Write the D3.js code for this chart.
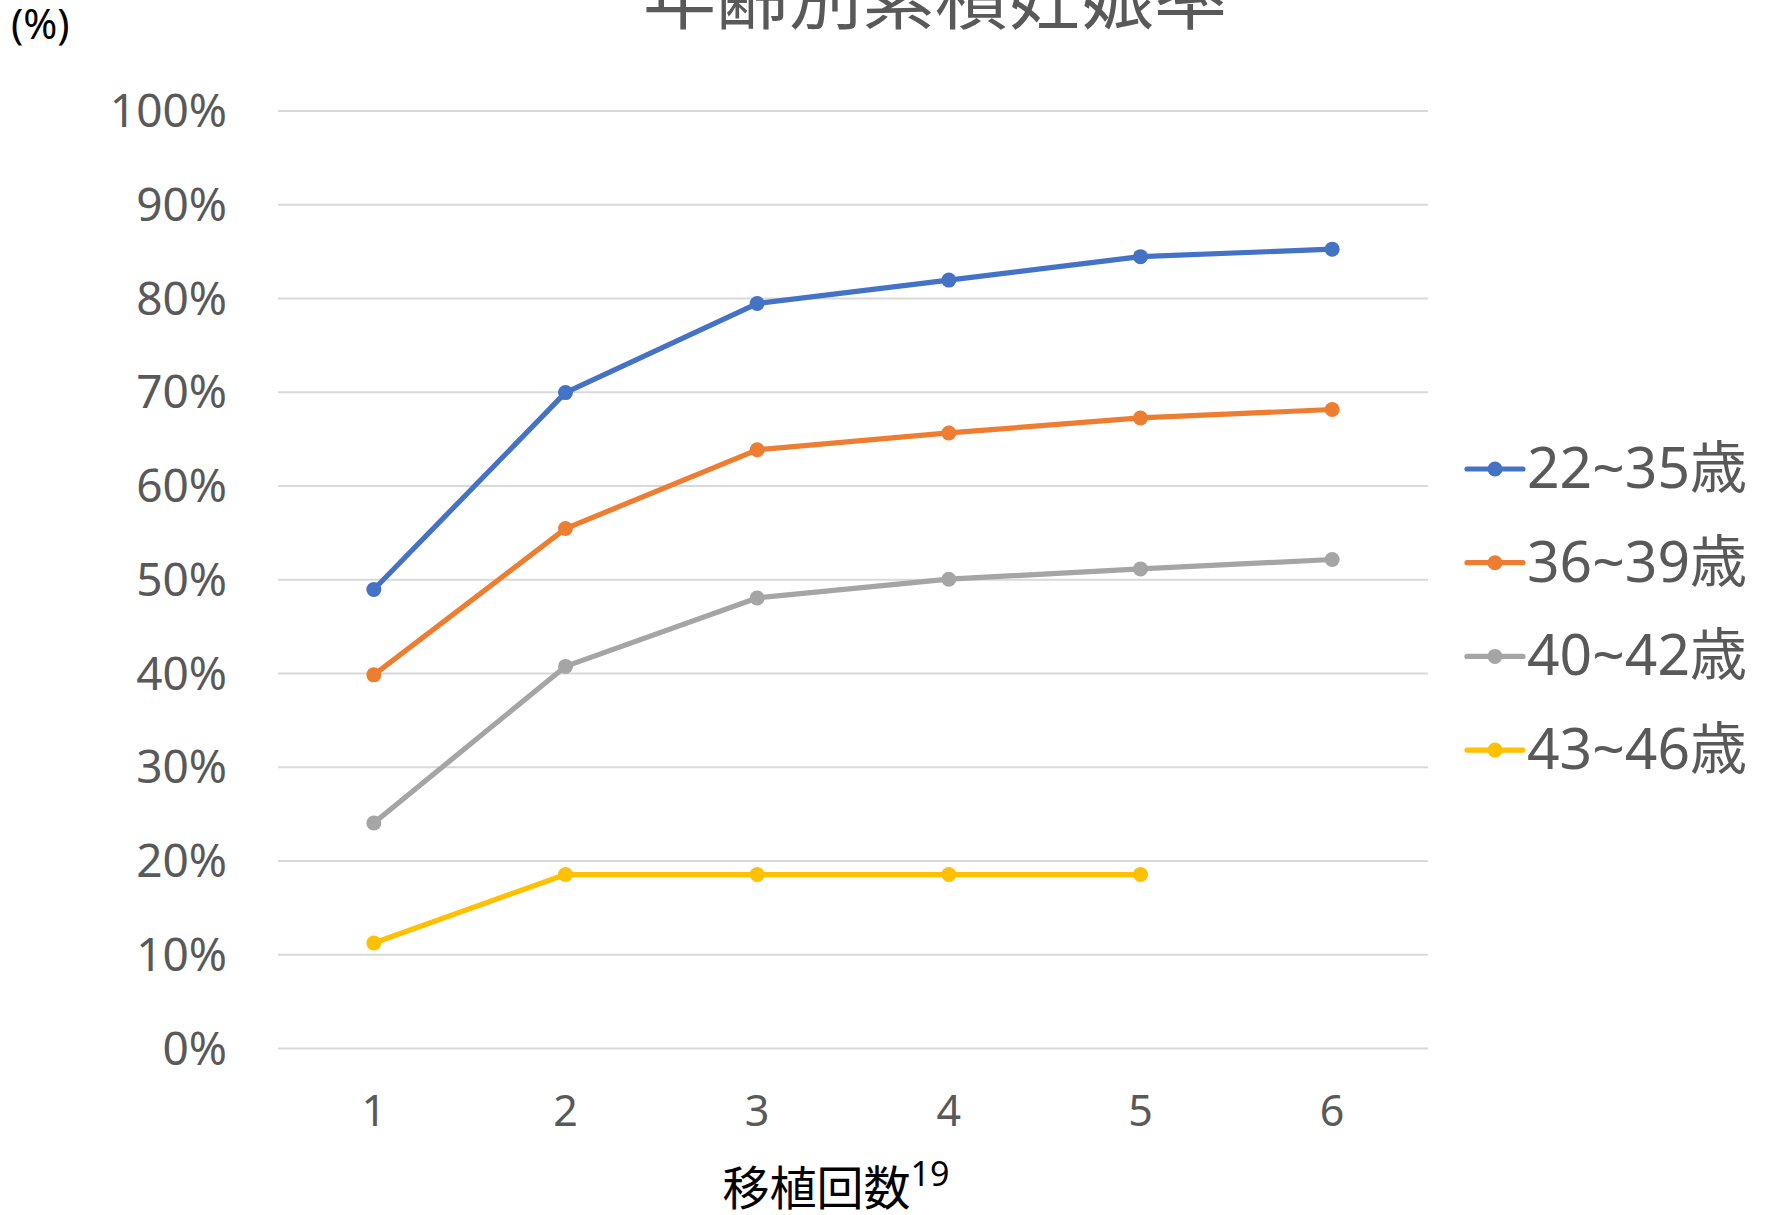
<!DOCTYPE html>
<html lang="ja">
<head>
<meta charset="utf-8">
<script src="https://cdn.jsdelivr.net/npm/d3@7"></script>
<style>
  html, body { margin: 0; padding: 0; background: #ffffff; }
  svg { display: block; }
  text { font-family: "Noto Sans", "Noto Sans CJK JP", sans-serif; }
</style>
</head>
<body>
<svg id="chart" width="1767" height="1215"></svg>
<script>
// Number of transfers (移植回数)
const transfers = ["1", "2", "3", "4", "5", "6"];

// Cumulative pregnancy rate by age group (fraction)
const age22to35 = [0.489, 0.699, 0.794, 0.819, 0.844, 0.852];
const age36to39 = [0.398, 0.554, 0.638, 0.656, 0.672, 0.681];
const age40to42 = [0.240, 0.407, 0.480, 0.500, 0.511, 0.521];
const age43to46 = [0.112, 0.185, 0.185, 0.185, 0.185];

const seriesNames = ["22~35歳", "36~39歳", "40~42歳", "43~46歳"];
const seriesColors = ["#4472c4", "#ed7d31", "#a5a5a5", "#ffc000"];
const yTicks = [0, 0.1, 0.2, 0.3, 0.4, 0.5, 0.6, 0.7, 0.8, 0.9, 1.0];

const seriesValues = [age22to35, age36to39, age40to42, age43to46];

const svg = d3.select("#chart");

const plot = { left: 278, right: 1428, top: 110.4, bottom: 1048 };

const x = d3.scaleBand()
  .domain(transfers)
  .range([plot.left, plot.right]);

const y = d3.scaleLinear()
  .domain([0, 1])
  .range([plot.bottom, plot.top]);

// Horizontal gridlines + percentage tick labels
const yAxis = svg.append("g")
  .attr("transform", `translate(${plot.left},0)`)
  .call(d3.axisLeft(y)
    .tickValues(yTicks)
    .tickFormat(d3.format(".0%"))
    .tickSize(-(plot.right - plot.left))
    .tickPadding(51));
yAxis.select(".domain").remove();
yAxis.selectAll(".tick line")
  .attr("stroke", "#d9d9d9")
  .attr("stroke-width", 2);
yAxis.selectAll(".tick text")
  .attr("fill", "#595959")
  .attr("font-size", 46)
  .attr("dy", "0.35em");

// Category axis
const xAxis = svg.append("g")
  .attr("transform", `translate(0,${plot.bottom})`)
  .call(d3.axisBottom(x).tickSize(0).tickPadding(47));
xAxis.select(".domain").remove();
xAxis.selectAll(".tick text")
  .attr("fill", "#595959")
  .attr("font-size", 43);

// Series lines and markers
const line = d3.line()
  .x((d, i) => x(transfers[i]) + x.bandwidth() / 2)
  .y(d => y(d));

seriesValues.forEach((vals, s) => {
  const g = svg.append("g");
  g.append("path")
    .datum(vals)
    .attr("d", line)
    .attr("fill", "none")
    .attr("stroke", seriesColors[s])
    .attr("stroke-width", 5.2)
    .attr("stroke-linejoin", "round")
    .attr("stroke-linecap", "round");
  g.selectAll("circle")
    .data(vals)
    .join("circle")
    .attr("cx", (d, i) => x(transfers[i]) + x.bandwidth() / 2)
    .attr("cy", d => y(d))
    .attr("r", 7.5)
    .attr("fill", seriesColors[s]);
});

// Legend
const legend = svg.append("g");
seriesNames.forEach((name, s) => {
  const ly = 469 + s * 93.7;
  legend.append("line")
    .attr("x1", 1467).attr("x2", 1523)
    .attr("y1", ly).attr("y2", ly)
    .attr("stroke", seriesColors[s])
    .attr("stroke-width", 5.2)
    .attr("stroke-linecap", "round");
  legend.append("circle")
    .attr("cx", 1495).attr("cy", ly).attr("r", 7.5)
    .attr("fill", seriesColors[s]);
  legend.append("text")
    .attr("x", 1527).attr("y", ly + 19)
    .attr("font-size", 57)
    .attr("fill", "#595959")
    .text(name);
});

// Title (partly above the top edge)
svg.append("text")
  .attr("x", 935).attr("y", 23)
  .attr("text-anchor", "middle")
  .attr("font-size", 73)
  .attr("fill", "#595959")
  .text("年齢別累積妊娠率");

// Unit label
svg.append("text")
  .attr("x", 11).attr("y", 39)
  .attr("font-size", 41)
  .attr("fill", "#000000")
  .text("(%)");

// Axis title with footnote superscript
const xt = svg.append("text")
  .attr("x", 836).attr("y", 1205)
  .attr("text-anchor", "middle")
  .attr("fill", "#000000");
xt.append("tspan").attr("font-size", 47).text("移植回数");
xt.append("tspan").attr("font-size", 34).attr("dy", -19).text("19");
</script>
</body>
</html>
